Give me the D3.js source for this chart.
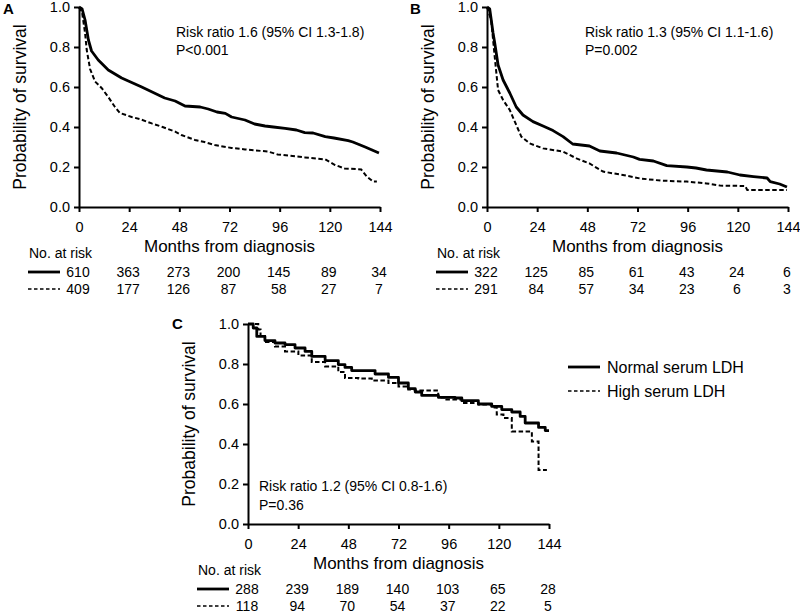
<!DOCTYPE html>
<html><head><meta charset="utf-8">
<script src="https://cdn.jsdelivr.net/npm/d3@7"></script>
<style>body{margin:0;background:#fff}svg{display:block;font-family:"Liberation Sans",Arial,sans-serif}</style>
</head><body><svg id="c" width="800" height="613"></svg>
<script>
// ---- data ----
const months = [0,24,48,72,96,120,144];
const yTicks = [0,0.2,0.4,0.6,0.8,1.0];
const seriesNames = ["Normal serum LDH","High serum LDH"];

const aNormal = [[0,1],[1.5,0.99],[2.9,0.935],[4.5,0.835],[6,0.78],[9.2,0.735],[14,0.685],[20.4,0.645],[23.6,0.63],[30,0.60],[35,0.575],[41,0.545],[46,0.53],[50.7,0.505],[58,0.50],[61.8,0.49],[66,0.475],[70,0.468],[73,0.45],[79.4,0.435],[84,0.415],[89,0.405],[93,0.40],[98.6,0.393],[104,0.385],[108,0.372],[112,0.37],[117.8,0.352],[122,0.345],[128.8,0.332],[131,0.325],[136.9,0.30],[143.5,0.27]];
const aHigh = [[0,1],[1.5,0.97],[2.9,0.87],[3.7,0.785],[5.3,0.69],[7.7,0.627],[10.9,0.594],[14,0.55],[17.2,0.50],[19.6,0.47],[25.2,0.45],[29,0.44],[34.8,0.418],[40,0.40],[46,0.377],[49,0.36],[55.5,0.335],[60,0.325],[65,0.31],[73,0.295],[79.4,0.288],[90.5,0.277],[95,0.263],[108,0.248],[117.8,0.238],[122.5,0.21],[127,0.193],[135,0.188],[137.7,0.152],[140.7,0.127],[142.5,0.127]];
const bNormal = [[0,1],[1.3,0.99],[2.9,0.87],[3.7,0.82],[5.3,0.71],[7.7,0.635],[10.9,0.57],[14,0.50],[17.2,0.46],[22,0.427],[26.8,0.405],[31.6,0.382],[36.4,0.352],[41,0.315],[49,0.305],[54,0.28],[62,0.27],[70,0.25],[73,0.238],[79.6,0.23],[86,0.207],[95.6,0.2],[100,0.195],[105,0.185],[115,0.175],[121,0.16],[127.5,0.152],[134,0.145],[135.5,0.127],[140,0.115],[143.5,0.10]];
const bHigh = [[0,1],[2,0.935],[3.7,0.75],[5.3,0.585],[7.7,0.535],[10.9,0.485],[14,0.41],[16.4,0.352],[20.4,0.318],[26.8,0.293],[36.4,0.277],[42.8,0.243],[49,0.218],[55.5,0.177],[65,0.16],[73,0.143],[83,0.132],[95.6,0.127],[105,0.118],[111.5,0.107],[123.5,0.105],[124.5,0.085],[143.5,0.085]];
const cNormal = [[0,1],[2.5,0.98],[4.2,0.938],[8.1,0.917],[12.9,0.905],[17.7,0.897],[22.5,0.88],[27.3,0.863],[30.5,0.838],[36.9,0.817],[43.2,0.797],[46.4,0.783],[49.6,0.767],[60.8,0.75],[67.2,0.733],[72,0.705],[76.7,0.677],[80,0.66],[83.1,0.643],[91.1,0.633],[99.1,0.63],[102.3,0.617],[110.2,0.60],[116.6,0.588],[121.4,0.572],[126.2,0.56],[130.2,0.538],[132.6,0.505],[139,0.483],[142.2,0.467],[144,0.467]];
const cHigh = [[0,1],[4.9,0.972],[6,0.94],[8.1,0.91],[12.9,0.888],[17.7,0.863],[24.1,0.843],[30.5,0.81],[36.9,0.788],[43.2,0.76],[46.4,0.73],[52.8,0.727],[59.2,0.717],[67.2,0.705],[72,0.688],[76.7,0.672],[80,0.667],[91,0.633],[94.3,0.622],[102.3,0.605],[110.2,0.597],[116.6,0.583],[119,0.547],[122.2,0.53],[126.2,0.463],[135.8,0.413],[139,0.27],[143,0.27]];

const aRiskNormal = [610,363,273,200,145,89,34];
const aRiskHigh   = [409,177,126,87,58,27,7];
const bRiskNormal = [322,125,85,61,43,24,6];
const bRiskHigh   = [291,84,57,34,23,6,3];
const cRiskNormal = [288,239,189,140,103,65,28];
const cRiskHigh   = [118,94,70,54,37,22,5];

const aStats = ["Risk ratio 1.6 (95% CI 1.3-1.8)","P<0.001"];
const bStats = ["Risk ratio 1.3 (95% CI 1.1-1.6)","P=0.002"];
const cStats = ["Risk ratio 1.2 (95% CI 0.8-1.6)","P=0.36"];

// ---- layout ----
const panels = [
  {label:"A", x0:79,  y0:7,   normal:aNormal, high:aHigh, rn:aRiskNormal, rh:aRiskHigh, stats:aStats, curve:d3.curveLinear,    sx:97, sy:[30,48], lx:3,   ly:14},
  {label:"B", x0:487, y0:7,   normal:bNormal, high:bHigh, rn:bRiskNormal, rh:bRiskHigh, stats:bStats, curve:d3.curveLinear,    sx:98, sy:[30,48], lx:410, ly:14},
  {label:"C", x0:248, y0:324, normal:cNormal, high:cHigh, rn:cRiskNormal, rh:cRiskHigh, stats:cStats, curve:d3.curveStepAfter, sx:11, sy:[167,186], lx:172, ly:329}
];
const W = 301, H = 200;

const svg = d3.select("#c");

panels.forEach(p => {
  const x = d3.scaleLinear().domain([0,144]).range([0,W]);
  const y = d3.scaleLinear().domain([0,1]).range([H,0]);
  const g = svg.append("g").attr("transform",`translate(${p.x0},${p.y0})`);

  const xa = g.append("g").attr("transform",`translate(0,${H})`)
    .call(d3.axisBottom(x).tickValues(months).tickSize(5).tickSizeOuter(0).tickPadding(10));
  const ya = g.append("g")
    .call(d3.axisLeft(y).tickValues(yTicks).tickFormat(d3.format(".1f")).tickSize(5).tickSizeOuter(0).tickPadding(4));
  [xa,ya].forEach(a => {
    a.selectAll("path,line").attr("stroke","#000").attr("stroke-width",2);
    a.selectAll("text").attr("font-size",14.5).attr("fill","#000").attr("font-family",'"Liberation Sans",Arial,sans-serif');
  });

  const line = d3.line().x(d=>x(d[0])).y(d=>y(d[1])).curve(p.curve);
  g.append("path").datum(p.high).attr("d",line).attr("fill","none").attr("stroke","#000")
    .attr("stroke-width",2).attr("stroke-dasharray","4.5,2.5");
  g.append("path").datum(p.normal).attr("d",line).attr("fill","none").attr("stroke","#000")
    .attr("stroke-width",2.8).attr("stroke-linejoin","round");

  g.append("text").attr("x",W/2).attr("y",245).attr("text-anchor","middle")
    .attr("font-size",17).text("Months from diagnosis");
  g.append("text").attr("transform","rotate(-90)").attr("x",-H/2).attr("y",-53)
    .attr("text-anchor","middle").attr("font-size",17.5).text("Probability of survival");

  p.stats.forEach((s,i) => g.append("text").attr("x",p.sx).attr("y",p.sy[i]).attr("font-size",14).text(s));

  // number at risk
  g.append("text").attr("x",-50).attr("y",251).attr("font-size",14).text("No. at risk");
  g.append("line").attr("x1",-51).attr("x2",-19).attr("y1",265).attr("y2",265).attr("stroke","#000").attr("stroke-width",2.8);
  g.append("line").attr("x1",-51).attr("x2",-19).attr("y1",282).attr("y2",282).attr("stroke","#000").attr("stroke-width",1.6).attr("stroke-dasharray","3.5,2.5");
  [[p.rn,270],[p.rh,287]].forEach(([vals,yy]) => {
    g.selectAll(null).data(vals).enter().append("text")
      .attr("x",(d,i)=>x(months[i])-1).attr("y",yy).attr("text-anchor","middle").attr("font-size",14).text(d=>d);
  });

  svg.append("text").attr("x",p.lx).attr("y",p.ly).attr("font-size",15).attr("font-weight","bold").text(p.label);
});

// legend for panel C
const leg = svg.append("g").attr("transform","translate(568,367)");
seriesNames.forEach((n,i) => {
  leg.append("line").attr("x1",0).attr("x2",32).attr("y1",i*24).attr("y2",i*24).attr("stroke","#000")
    .attr("stroke-width",i===0?2.8:1.6).attr("stroke-dasharray",i===0?null:"3.5,2.5");
  leg.append("text").attr("x",39).attr("y",i*24+5.5).attr("font-size",16).text(n);
});
</script></body></html>
